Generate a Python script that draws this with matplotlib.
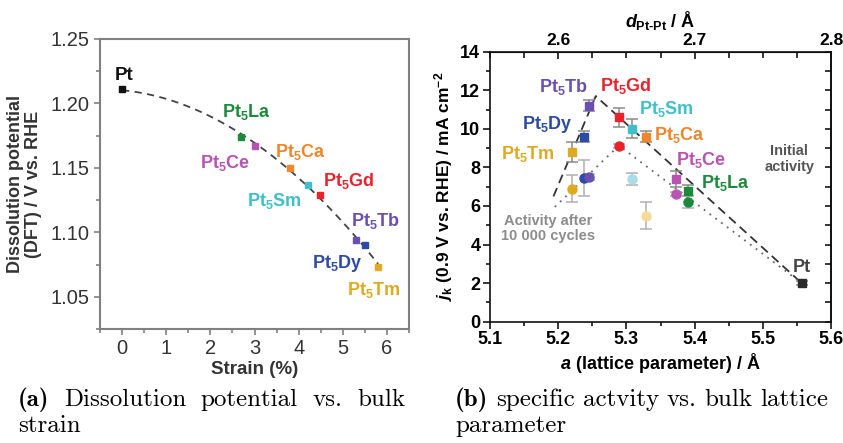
import numpy as np
import matplotlib
matplotlib.use("Agg")
import matplotlib.pyplot as plt
from matplotlib.ticker import MultipleLocator, FormatStrFormatter

plt.rcParams['font.family'] = ['Liberation Sans', 'DejaVu Sans']
plt.rcParams['mathtext.fontset'] = 'custom'
plt.rcParams['mathtext.rm'] = 'Liberation Sans:bold'
plt.rcParams['mathtext.it'] = 'Liberation Sans:italic:bold'
plt.rcParams['mathtext.bf'] = 'Liberation Sans:bold'

# ---- (a) dissolution potential vs. strain ----
alloys = ['Pt', 'Pt5La', 'Pt5Ce', 'Pt5Ca', 'Pt5Sm', 'Pt5Gd', 'Pt5Tb', 'Pt5Dy', 'Pt5Tm']
strain = [0.0, 2.70, 3.00, 3.80, 4.21, 4.49, 5.30, 5.51, 5.80]
dissolution = [1.211, 1.174, 1.167, 1.150, 1.137, 1.129, 1.094, 1.090, 1.073]

# ---- (b) specific activity vs. lattice parameter ----
b_alloys = ['Pt5Tm', 'Pt5Dy', 'Pt5Tb', 'Pt5Gd', 'Pt5Sm', 'Pt5Ca', 'Pt5Ce', 'Pt5La', 'Pt']
lattice = [5.220, 5.238, 5.245, 5.289, 5.308, 5.328, 5.372, 5.390, 5.557]
jk_initial = [8.8, 9.6, 11.2, 10.6, 10.0, 9.6, 7.4, 6.8, 2.0]
jk_initial_err = [0.5, 0.3, 0.3, 0.5, 0.5, 0.3, 0.4, 0.3, 0.1]
cyc_alloys = ['Pt5Tm', 'Pt5Dy', 'Pt5Tb', 'Pt5Gd', 'Pt5Sm', 'Pt5Ca', 'Pt5Ce', 'Pt5La']
jk_cycled = [6.9, 7.45, 7.5, 9.1, 7.4, 5.5, 6.6, 6.2]
jk_cycled_err = [0.7, 0.95, 0.15, 0.1, 0.3, 0.7, 0.1, 0.3]

# trend guides (initial: dashed, after cycling: dotted)
trend_init_a = [5.193, 5.255, 5.557]
trend_init_j = [6.5, 11.7, 2.0]
trend_cyc_a = [5.195, 5.289, 5.557]
trend_cyc_j = [5.95, 9.13, 2.0]

colors = {
    'Pt': '#2a2a2a', 'Pt5La': '#1c8a3c', 'Pt5Ce': '#b952b4', 'Pt5Ca': '#f0862a',
    'Pt5Sm': '#3fc0c9', 'Pt5Gd': '#e8232c', 'Pt5Tb': '#6a50b0', 'Pt5Dy': '#2d4aa6',
    'Pt5Tm': '#e0a922',
}
pale = {'Pt5Sm': '#a9dde6', 'Pt5Ca': '#f7da9a'}


def label(name):
    if name == 'Pt':
        return 'Pt'
    return r'Pt$_5$' + name[3:]


fig = plt.figure(figsize=(8.43, 4.43), dpi=100)

# ----------------------------- panel (a)
axa = fig.add_axes([0.1186, 0.2573, 0.3666, 0.6547])
grey = '#808080'
for s in axa.spines.values():
    s.set_color(grey)
    s.set_linewidth(1.5)

fit = np.polyfit(strain, dissolution, 2)
xs = np.linspace(0, 5.8, 100)
axa.plot(xs, np.polyval(fit, xs), ls=(0, (4, 3)), color='#444444', lw=1.3, zorder=1)
for n, x, y in zip(alloys, strain, dissolution):
    axa.plot(x, y, 's', ms=4, color=colors[n] if n != 'Pt' else '#111111', zorder=3)

a_label_pos = {
    'Pt': (0.05, 1.222), 'Pt5La': (2.81, 1.193), 'Pt5Ce': (2.34, 1.154),
    'Pt5Ca': (4.05, 1.162), 'Pt5Gd': (5.13, 1.140), 'Pt5Sm': (3.45, 1.124),
    'Pt5Tb': (5.73, 1.109), 'Pt5Dy': (4.87, 1.076), 'Pt5Tm': (5.71, 1.055),
}
for n in alloys:
    x, y = a_label_pos[n]
    axa.text(x, y, label(n), color=colors[n] if n != 'Pt' else '#111111',
             fontsize=13 if n != 'Pt' else 13.5, fontweight='bold',
             ha='center', va='center')

axa.set_xlim(-0.5, 6.5)
axa.set_ylim(1.025, 1.25)
axa.xaxis.set_major_locator(MultipleLocator(1))
axa.xaxis.set_minor_locator(MultipleLocator(0.5))
axa.yaxis.set_major_locator(MultipleLocator(0.05))
axa.yaxis.set_minor_locator(MultipleLocator(0.025))
axa.yaxis.set_major_formatter(FormatStrFormatter('%.2f'))
axa.tick_params(which='both', direction='out', color=grey, width=1.2,
                labelsize=14.5, labelcolor='#333333')
axa.tick_params(which='major', length=4)
axa.tick_params(which='minor', length=3)
axa.set_xlabel('Strain (%)', fontsize=13.5, fontweight='bold', color='#333333', labelpad=2)
axa.set_ylabel('Dissolution potential\n(DFT) / V vs. RHE', fontsize=13,
               fontweight='bold', color='#333333', labelpad=6, linespacing=1.1)

# ----------------------------- panel (b)
axb = fig.add_axes([0.5813, 0.2738, 0.4045, 0.6095])
for s in axb.spines.values():
    s.set_color('#111111')
    s.set_linewidth(1.2)

axb.plot(trend_init_a, trend_init_j, ls=(0, (5, 3)), color='#333333', lw=1.3, zorder=1)
axb.plot(trend_cyc_a, trend_cyc_j, ls=(0, (1, 3)), color='#666666', lw=1.3, zorder=1)

for n, a, j, e in zip(b_alloys, lattice, jk_initial, jk_initial_err):
    axb.errorbar(a, j, yerr=e, fmt='none', ecolor='#8a8a8a', elinewidth=1.1,
                 capsize=4, capthick=1.1, zorder=2)
    axb.plot(a, j, 's', ms=6, color=colors[n], zorder=4)

lat_map = dict(zip(b_alloys, lattice))
for n, j, e in zip(cyc_alloys, jk_cycled, jk_cycled_err):
    a = lat_map[n]
    axb.errorbar(a, j, yerr=e, fmt='none', ecolor='#b0b0b0', elinewidth=1.1,
                 capsize=4, capthick=1.1, zorder=2)
    axb.plot(a, j, 'o', ms=6.5, color=pale.get(n, colors[n]), zorder=4)

b_label_pos = {
    'Pt5Tb': (5.2075, 12.15), 'Pt5Gd': (5.299, 12.2), 'Pt5Sm': (5.358, 11.05),
    'Pt5Dy': (5.184, 10.25), 'Pt5Ca': (5.377, 9.7), 'Pt5Tm': (5.156, 8.68),
    'Pt5Ce': (5.409, 8.37), 'Pt5La': (5.4446, 7.2), 'Pt': (5.557, 2.8),
}
for n, (x, y) in b_label_pos.items():
    axb.text(x, y, label(n), color=colors[n] if n != 'Pt' else '#444444',
             fontsize=13, fontweight='bold', ha='center', va='center')

axb.text(5.539, 8.42, 'Initial\nactivity', color='#555555', fontsize=10.5,
         fontweight='bold', ha='center', va='center', linespacing=1.15)
axb.text(5.1846, 4.84, 'Activity after\n10 000 cycles', color='#8c8c8c', fontsize=10.5,
         fontweight='bold', ha='center', va='center', linespacing=1.15)

axb.set_xlim(5.1, 5.6)
axb.set_ylim(0, 14)
axb.xaxis.set_major_locator(MultipleLocator(0.1))
axb.xaxis.set_minor_locator(MultipleLocator(0.05))
axb.yaxis.set_major_locator(MultipleLocator(2))
axb.yaxis.set_minor_locator(MultipleLocator(1))
axb.xaxis.set_major_formatter(FormatStrFormatter('%.1f'))
axb.tick_params(which='both', direction='out', width=1.1, labelsize=13, pad=2)
axb.tick_params(which='major', length=5)
axb.tick_params(which='minor', length=3)
for lab in axb.get_xticklabels() + axb.get_yticklabels():
    lab.set_fontweight('bold')

right = axb.secondary_yaxis('right')
right.yaxis.set_major_locator(MultipleLocator(1))
right.tick_params(direction='in', length=4, width=1.1, labelright=False)
right.spines['right'].set_linewidth(1.2)

top = axb.secondary_xaxis('top', functions=(lambda a: a / 2, lambda d: 2 * d))
top.xaxis.set_major_locator(MultipleLocator(0.1))
top.xaxis.set_minor_locator(MultipleLocator(0.025))
top.xaxis.set_major_formatter(FormatStrFormatter('%.1f'))
top.tick_params(which='both', direction='in', width=1.1, labelsize=12.5, pad=3)
top.tick_params(which='major', length=5)
top.tick_params(which='minor', length=4)
for lab in top.get_xticklabels():
    lab.set_fontweight('bold')
top.set_xlabel(r'$d_{\mathrm{Pt\text{-}Pt}}$ / Å', fontsize=13, fontweight='bold', labelpad=4)

axb.set_xlabel(r'$a$ (lattice parameter) / Å', fontsize=13, fontweight='bold', labelpad=2)
axb.set_ylabel(r'$j_{\mathrm{k}}$ (0.9 V vs. RHE) / mA cm$^{-2}$', fontsize=12.5,
               fontweight='bold', labelpad=4)

# ----------------------------- captions (first line justified to the column width)
cap = 18
renderer = fig.canvas.get_renderer()


def justified(x0, x1, y, words):
    """Draw words on one line, spreading them evenly from x0 to x1 (pixels)."""
    items = []
    for w, fam in words:
        t = fig.text(0, y, w, family=fam, fontsize=cap, va='baseline')
        items.append(t)
    widths = [t.get_window_extent(renderer).width for t in items]
    gap = (x1 - x0 - sum(widths)) / (len(items) - 1)
    x = x0
    for t, w in zip(items, widths):
        t.set_x(x / fig.bbox.width)
        x += w + gap


def caption(x0, x1, tag, line1, line2):
    words = [(tag, 'cmb10')] + [(w, 'cmr10') for w in line1.split()]
    justified(x0, x1, 0.083, words)
    fig.text(x0 / fig.bbox.width, 0.025, line2, family='cmr10', fontsize=cap, va='baseline')


caption(18, 405, '(a)', 'Dissolution potential vs. bulk', 'strain')
caption(455, 828, '(b)', 'specific actvity vs. bulk lattice', 'parameter')

fig.savefig('out.png', dpi=100)
